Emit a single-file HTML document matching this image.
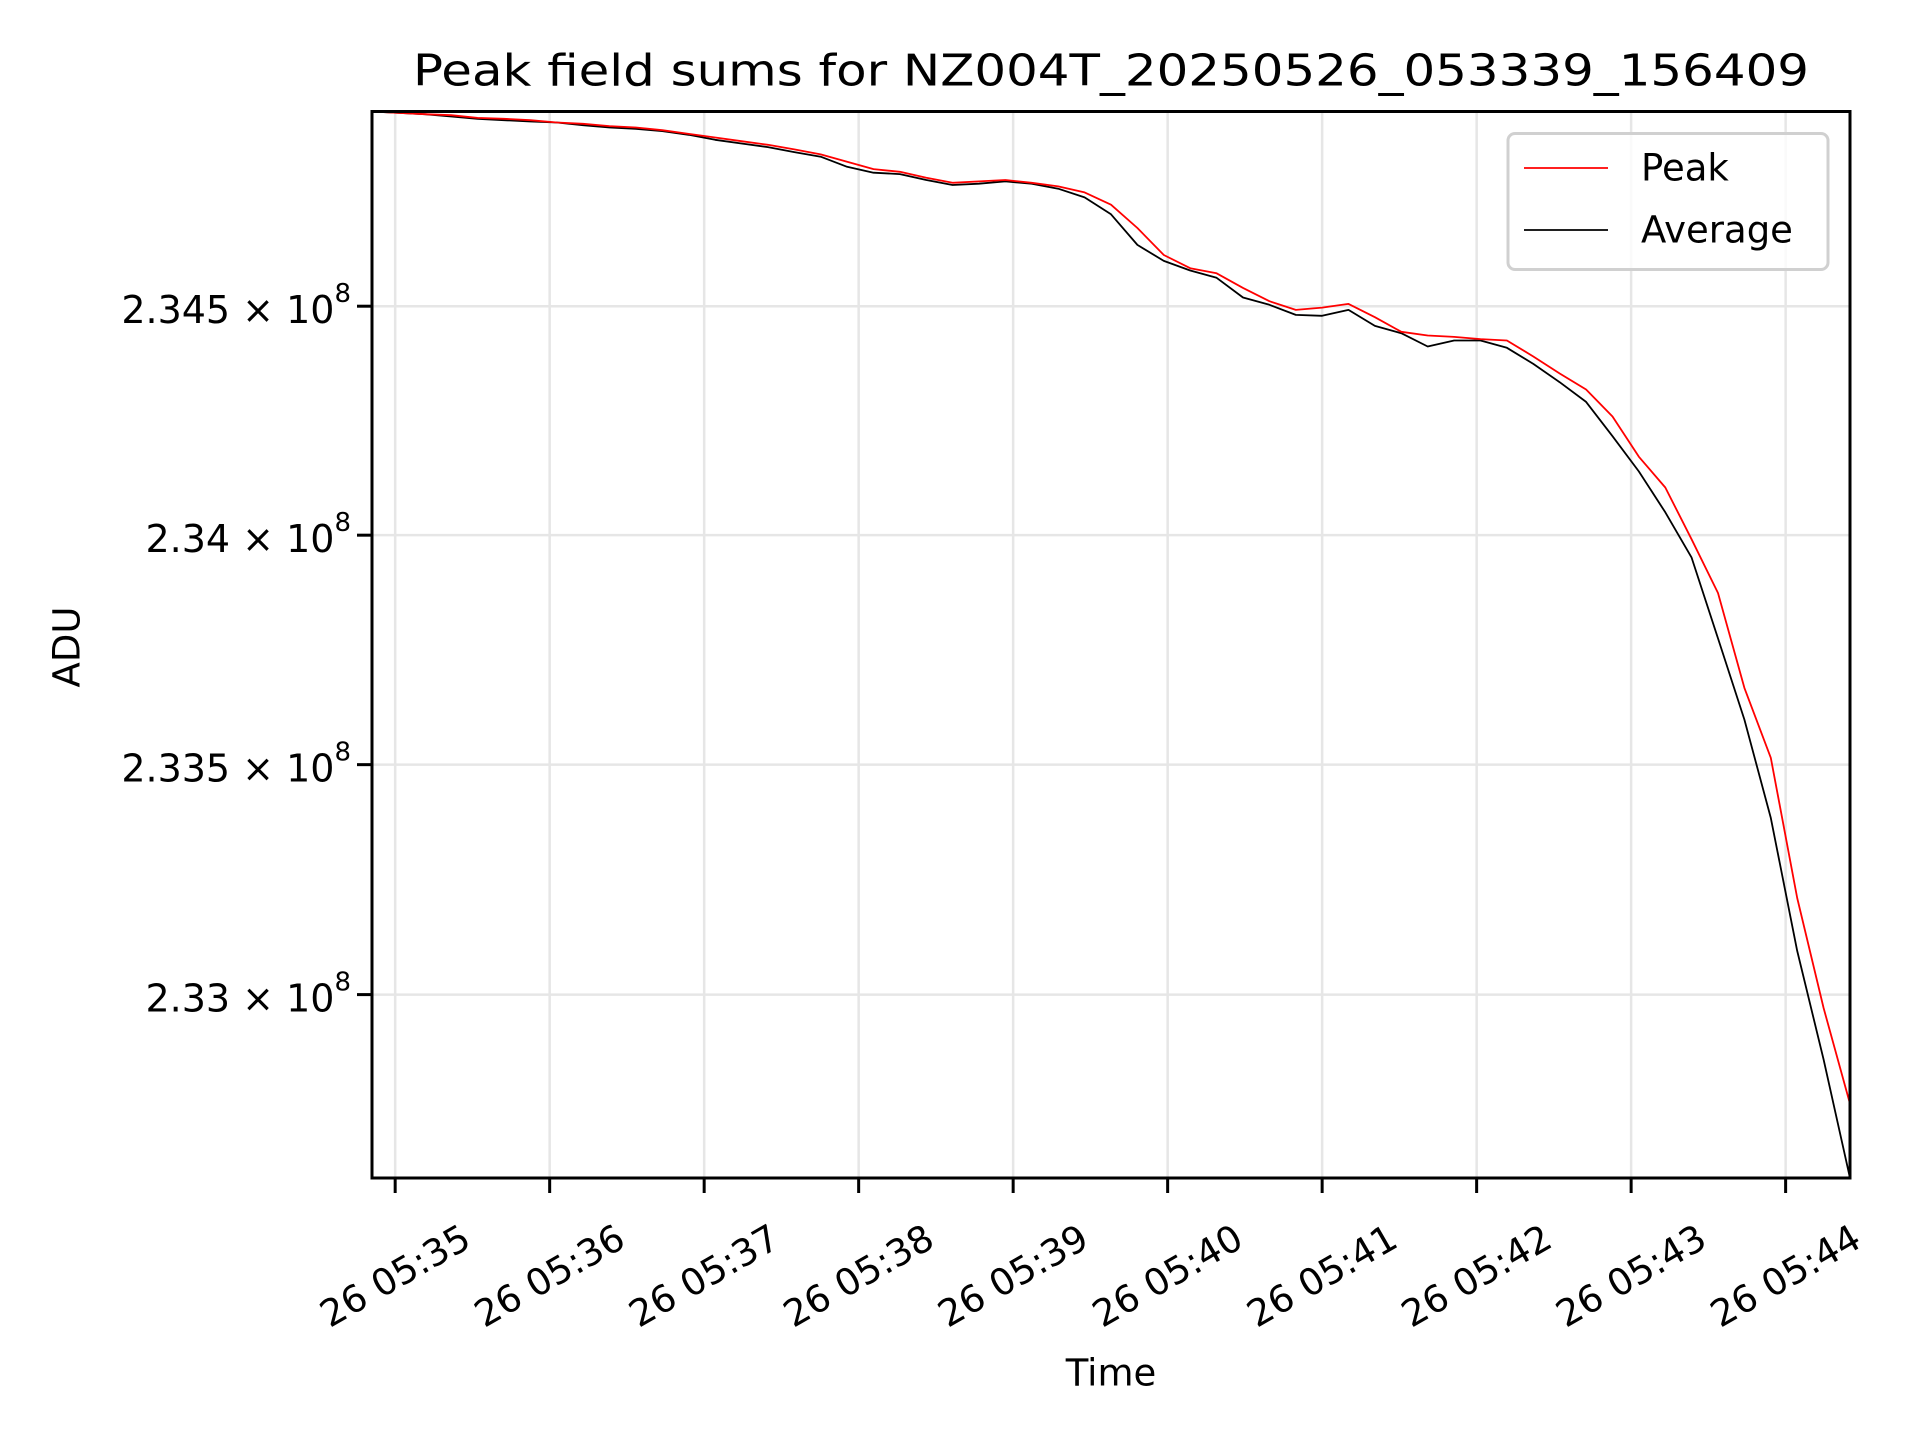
<!DOCTYPE html>
<html><head><meta charset="utf-8"><style>
html,body{margin:0;padding:0;background:#fff;}
svg{display:block;font-family:"DejaVu Sans","Liberation Sans",sans-serif;}
</style></head><body>
<svg id="chart" width="1920" height="1440" viewBox="0 0 1920 1440" xmlns="http://www.w3.org/2000/svg">
<rect width="1920" height="1440" fill="#fff"/>
<g id="grid"></g>
<g id="series"></g>
<rect x="372" y="111.5" width="1478" height="1066.5" fill="none" stroke="#000" stroke-width="3"/>
<g id="ticks"></g>
<text x="1111" y="71" font-size="44" text-anchor="middle" dominant-baseline="central" textLength="1396" lengthAdjust="spacingAndGlyphs">Peak field sums for NZ004T_20250526_053339_156409</text>
<text transform="translate(67,647) rotate(-90)" font-size="37" text-anchor="middle" dominant-baseline="central">ADU</text>
<text x="1111" y="1373" font-size="37" text-anchor="middle" dominant-baseline="central">Time</text>
<g>
<rect x="1508" y="133.5" width="320" height="136" rx="7" fill="#fff" fill-opacity="0.8" stroke="#d0d0d0" stroke-width="3"/>
<line x1="1524" y1="168" x2="1608" y2="168" stroke="#ff0000" stroke-width="1.8"/>
<text x="1641" y="168" font-size="37" dominant-baseline="central">Peak</text>
<line x1="1524" y1="230" x2="1608" y2="230" stroke="#000" stroke-width="1.8"/>
<text x="1641" y="230" font-size="37" dominant-baseline="central">Average</text>
</g>
</svg>
<script>
// seconds after 05:34:00
const times = [51,61.25,71.5,81.75,92,102.25,112.5,122.75,133,143.25,153.5,163.75,174,184.25,194.5,204.75,215,225.25,235.5,245.75,256,266.25,276.5,286.75,297,307.25,317.5,327.75,338,348.25,358.5,368.75,379,389.25,399.5,409.75,420,430.25,440.5,450.75,461,471.25,481.5,491.75,502,512.25,522.5,532.75,543,553.25,563.5,573.75,584,594.25,604.5,614.75,625];
const peakValues = [234926000,234923000,234920000,234918000,234912000,234910000,234907000,234902000,234899000,234894000,234891000,234885000,234877000,234869000,234861000,234853000,234843000,234832000,234816000,234800000,234794000,234781000,234770000,234773000,234776000,234770000,234762000,234749000,234722000,234671000,234612000,234583000,234572000,234540000,234511000,234492000,234497000,234505000,234476000,234444000,234436000,234433000,234428000,234425000,234390000,234353000,234318000,234259000,234171000,234104000,233991000,233874000,233667000,233515000,233210000,232971000,232763000];
const averageValues = [234926000,234923000,234920000,234915000,234910000,234907000,234904000,234902000,234896000,234891000,234888000,234883000,234875000,234864000,234856000,234848000,234837000,234827000,234805000,234792000,234789000,234776000,234765000,234768000,234773000,234768000,234757000,234738000,234701000,234634000,234599000,234578000,234562000,234519000,234503000,234481000,234479000,234492000,234457000,234441000,234412000,234425000,234425000,234409000,234374000,234334000,234291000,234216000,234139000,234050000,233951000,233775000,233598000,233384000,233095000,232859000,232602000];
const xTickValues = [60,120,180,240,300,360,420,480,540,600];
const xTickLabels = ["26 05:35","26 05:36","26 05:37","26 05:38","26 05:39","26 05:40","26 05:41","26 05:42","26 05:43","26 05:44"];
const yTickValues = [234500000,234000000,233500000,233000000];
const yTickLabels = ["2.345","2.34","2.335","2.33"];

const NS = "http://www.w3.org/2000/svg";
const L = 372, R = 1850, T = 111.5, B = 1178;
const xMin = Math.min(...times), xMax = Math.max(...times);
const allV = peakValues.concat(averageValues);
const yMax = Math.max(...allV), yMin = Math.min(...allV);
function xScale(t){ return L + (t - xMin) / (xMax - xMin) * (R - L); }
function yScale(v){ return T + (Math.log10(yMax) - Math.log10(v)) / (Math.log10(yMax) - Math.log10(yMin)) * (B - T); }
function mk(tag, attrs){ const e = document.createElementNS(NS, tag); for (const k in attrs) e.setAttribute(k, attrs[k]); return e; }

const grid = document.getElementById('grid');
const ticks = document.getElementById('ticks');
xTickValues.forEach((t, i) => {
  const x = xScale(t);
  const g = mk('line', {x1:x, y1:T, x2:x, y2:B, stroke:'#e6e6e6', 'stroke-width':2.5});
  
  
  grid.appendChild(g);
  const tk = mk('line', {x1:x, y1:B, x2:x, y2:B+15, stroke:'#000', 'stroke-width':3});
  
  
  ticks.appendChild(tk);
  const lb = mk('text', {x:0, y:0, 'font-size':37, 'text-anchor':'middle', 'dominant-baseline':'central', transform:'translate(' + x + ',1276) rotate(-30)'});
  lb.textContent = xTickLabels[i];
  
  
  ticks.appendChild(lb);
});
yTickValues.forEach((v, i) => {
  const y = yScale(v);
  const g = mk('line', {x1:L, y1:y, x2:R, y2:y, stroke:'#e6e6e6', 'stroke-width':2.5});
  
  
  grid.appendChild(g);
  const tk = mk('line', {x1:L-15, y1:y, x2:L, y2:y, stroke:'#000', 'stroke-width':3});
  
  
  ticks.appendChild(tk);
  const lb = mk('text', {x:351, y:y+4, 'font-size':38, 'text-anchor':'end', 'dominant-baseline':'central'});
  
  
  const t1 = mk('tspan', {}); t1.textContent = yTickLabels[i] + ' \u00d7 10';
  const t2 = mk('tspan', {'font-size':26, dy:-16}); t2.textContent = '8';
  lb.appendChild(t1); lb.appendChild(t2);
  ticks.appendChild(lb);
});

const series = document.getElementById('series');
function addLine(vals, color, name){
  const pts = vals.map((v, i) => xScale(times[i]).toFixed(1) + ',' + yScale(v).toFixed(1)).join(' ');
  const pl = mk('polyline', {points:pts, fill:'none', stroke:color, 'stroke-width':1.8, 'stroke-linejoin':'round'});
  
  
  series.appendChild(pl);
}
addLine(averageValues, '#000000', 'average-line');
addLine(peakValues, '#ff0000', 'peak-line');
</script>
</body></html>
